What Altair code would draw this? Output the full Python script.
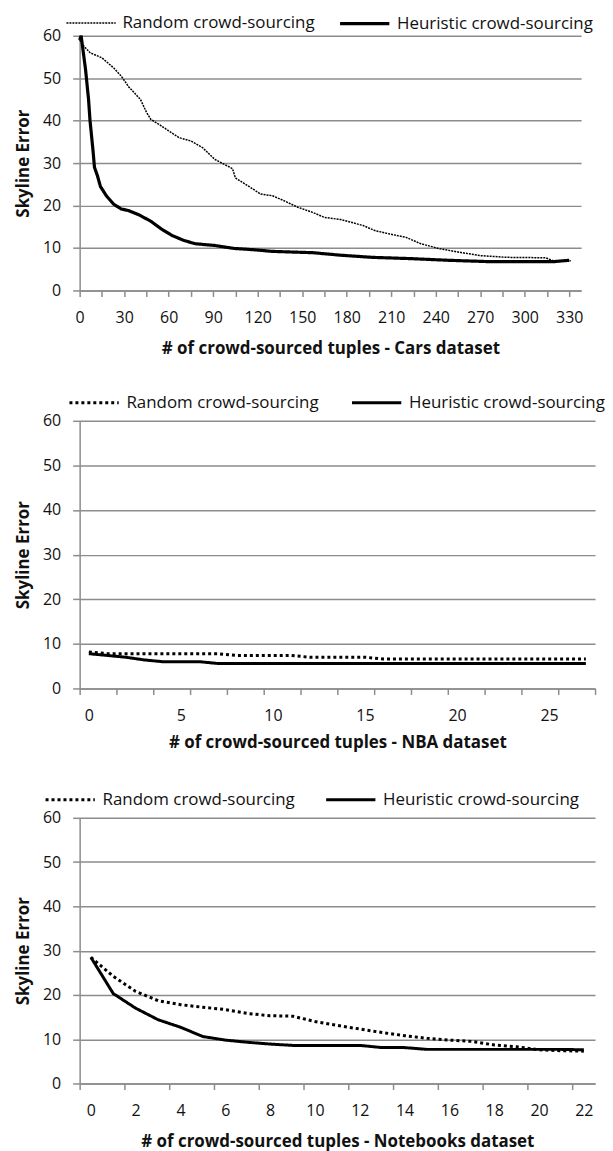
import altair as alt
import pandas as pd

SERIES = ["Random crowd-sourcing", "Heuristic crowd-sourcing"]
FONT = "Open Sans"
GRAY = "#8c8c8c"

# ---------------- Cars dataset ----------------
cars_random_x = [0, 3, 7, 15, 23, 28, 33, 41, 45, 48, 54, 60, 67, 75, 83, 91, 103, 105, 115, 122, 130,
                 138, 147, 157, 165, 176, 191, 199, 209, 220, 230, 243, 256, 270, 288, 314, 319, 331]
cars_random_y = [59, 57.5, 56, 54.8, 52.4, 50.5, 48, 45, 42, 40.3, 39, 37.6, 36, 35.2, 33.6, 30.9, 28.7, 26.5,
                 24.3, 22.7, 22.3, 21.1, 19.6, 18.4, 17.2, 16.7, 15.3, 14.1, 13.3, 12.5, 11, 9.8, 9.0, 8.2,
                 7.8, 7.7, 7.0, 7.0]
cars_heur_x = [0, 1, 4, 6, 7, 9, 10, 12, 14, 18, 23, 28, 33, 40, 48, 55, 62, 70, 78, 91, 104, 117, 130,
               157, 176, 197, 223, 249, 275, 301, 320, 330]
cars_heur_y = [59, 60, 52, 45, 40, 33, 29, 27, 24.5, 22.3, 20.3, 19.2, 18.8, 17.8, 16.3, 14.5, 13, 11.8,
               11, 10.6, 9.9, 9.6, 9.2, 8.9, 8.3, 7.8, 7.5, 7.1, 6.8, 6.8, 6.8, 7.1]

# ---------------- NBA dataset ----------------
nba_random = [8.2, 7.8, 7.8, 7.8, 7.8, 7.8, 7.8, 7.8, 7.4, 7.4, 7.4, 7.4, 7.0, 7.0, 7.0, 7.0,
              6.6, 6.6, 6.6, 6.6, 6.6, 6.6, 6.6, 6.6, 6.6, 6.6, 6.6, 6.6]
nba_heuristic = [7.8, 7.4, 7.0, 6.4, 6.0, 6.0, 6.0, 5.6, 5.6, 5.6, 5.6, 5.6, 5.6, 5.6, 5.6, 5.6,
                 5.6, 5.6, 5.6, 5.6, 5.6, 5.6, 5.6, 5.6, 5.6, 5.6, 5.6, 5.6]

# ---------------- Notebooks dataset ----------------
nb_random = [28.5, 24.2, 20.8, 18.7, 17.8, 17.2, 16.7, 15.8, 15.3, 15.2, 14.0, 13.1, 12.3, 11.5,
             10.8, 10.2, 9.8, 9.5, 8.7, 8.3, 7.6, 7.4, 7.3]
nb_heuristic = [28.5, 20.3, 17.0, 14.4, 12.7, 10.6, 9.8, 9.3, 8.9, 8.6, 8.6, 8.6, 8.6, 8.1, 8.1,
                7.7, 7.7, 7.7, 7.7, 7.7, 7.7, 7.7, 7.6]

y_values = [0, 10, 20, 30, 40, 50, 60]

cars_axis_values = list(range(0, 331, 15))
nba_axis_values = sorted(set([-0.5 + 2 * k for k in range(15)] + list(range(0, 26, 5))))
nb_axis_values = sorted(set([-0.5 + 2 * k for k in range(12)] + list(range(0, 23, 2))))


def frame(xr, yr, xh, yh):
    rows = [{"x": a, "y": b, "series": SERIES[0]} for a, b in zip(xr, yr)]
    rows += [{"x": a, "y": b, "series": SERIES[1]} for a, b in zip(xh, yh)]
    return pd.DataFrame(rows)


def panel(df, xtitle, xdomain, axis_values, label_test, tick_test, width, height,
          dash_range, width_range, lx, ly, colpad, title_pad):
    legend = alt.Legend(
        title=None, orient="none", legendX=lx, legendY=ly, direction="horizontal",
        symbolType="stroke", symbolSize=2450, symbolStrokeColor="black",
        labelFont=FONT, labelFontSize=17, labelColor="#111", labelOffset=6,
        labelLimit=400, columnPadding=colpad, padding=0,
    )
    return alt.Chart(df).mark_line(color="black", strokeCap="butt").encode(
        x=alt.X("x:Q",
                scale=alt.Scale(domain=xdomain, nice=False, zero=False),
                axis=alt.Axis(values=axis_values, title=xtitle, grid=False,
                              labelExpr=f"({label_test}) ? datum.label : ''",
                              tickOpacity={"condition": {"test": tick_test, "value": 1}, "value": 0},
                              labelOverlap=False, labelFlush=False, tickSize=6, labelPadding=13,
                              titlePadding=title_pad)),
        y=alt.Y("y:Q",
                scale=alt.Scale(domain=[0, 60], nice=False),
                axis=alt.Axis(values=y_values, title="Skyline Error", grid=True,
                              tickSize=7, labelPadding=12, titlePadding=10)),
        strokeDash=alt.StrokeDash("series:N", scale=alt.Scale(domain=SERIES, range=dash_range),
                                  legend=legend),
        strokeWidth=alt.StrokeWidth("series:N", scale=alt.Scale(domain=SERIES, range=width_range),
                                    legend=legend),
    ).properties(width=width, height=height)


cars = panel(frame(cars_random_x, cars_random_y, cars_heur_x, cars_heur_y),
             "# of crowd-sourced tuples - Cars dataset", [0, 338], cars_axis_values,
             "datum.value % 30 == 0", "true", 504, 256,
             [[2, 1], [1, 0]], [1.5, 3.2], -14, -39, 18, 15)

nba_x = list(range(len(nba_random)))
nba = panel(frame(nba_x, nba_random, nba_x, nba_heuristic),
            "# of crowd-sourced tuples - NBA dataset", [-0.5, 27.5], nba_axis_values,
            "datum.value % 5 == 0", "(datum.value + 0.5) % 2 == 0", 518, 269,
            [[3, 3], [1, 0]], [3, 3], -12, -45, 26, 11)

nb_x = list(range(len(nb_random)))
nb = panel(frame(nb_x, nb_random, nb_x, nb_heuristic),
           "# of crowd-sourced tuples - Notebooks dataset", [-0.5, 22.5], nb_axis_values,
           "datum.value % 2 == 0", "(datum.value + 0.5) % 2 == 0", 518, 267,
           [[3, 3], [1, 0]], [3, 3], -36, -45, 24, 15)

RES = dict(strokeDash="independent", strokeWidth="independent", x="independent", y="independent")
LRES = dict(strokeDash="independent", strokeWidth="independent")

upper = alt.vconcat(cars, nba, spacing=20).resolve_scale(**RES).resolve_legend(**LRES)

chart = alt.vconcat(upper, nb, spacing=23).resolve_scale(**RES).resolve_legend(**LRES).properties(
    padding={"left": 6, "top": -14, "right": 0, "bottom": 0}
).configure(font=FONT).configure_view(stroke=None).configure_axis(
    labelFont=FONT, labelFontSize=16, labelColor="#111",
    titleFont=FONT, titleFontSize=17, titleFontWeight="bold", titleColor="#111",
    domainColor=GRAY, domainWidth=1.5, tickColor=GRAY, tickWidth=1.5,
    gridColor=GRAY, gridWidth=1.5,
)

chart.save("out.html", embed_options={"renderer": "svg", "actions": False})
